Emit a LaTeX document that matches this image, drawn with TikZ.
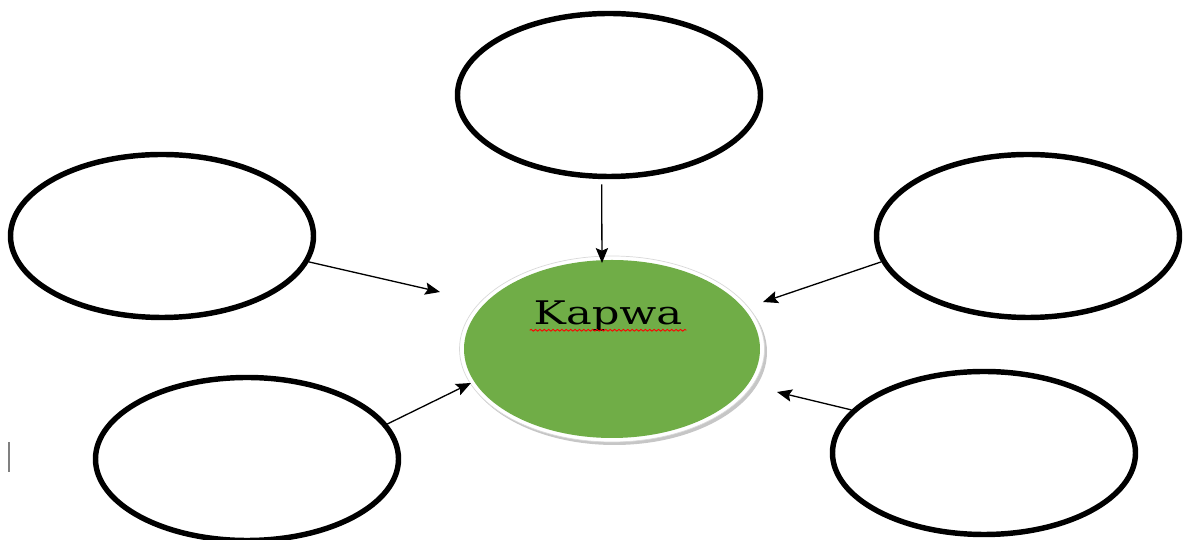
\documentclass[tikz,border=0pt]{standalone}
\usepackage{fontspec}
\newfontfamily\kapwafont{DejaVu Serif}
\usetikzlibrary{shapes.geometric,arrows.meta,decorations.pathmorphing}
\definecolor{kapwagreen}{HTML}{70AD47}
\begin{document}
\begin{tikzpicture}[>={Stealth[length=8.5pt,width=7pt,inset=1.5pt]},
		bubble/.style={ellipse,draw,line width=3.1pt,minimum width=6.06cm,minimum height=3.26cm},
		link/.style={->,line width=0.75pt},
		core/.style={ellipse,minimum width=6.1cm,minimum height=3.72cm}]
		\useasboundingbox (0,0) rectangle (23.66,10.8);
		\node[bubble] (top) at (12.18,8.90) {};
		\node[bubble] (lu) at (3.24,6.08) {};
		\node[bubble] (ll) at (4.94,1.62) {};
		\node[bubble] (ru) at (20.56,6.08) {};
		\node[bubble] (rl) at (19.68,1.74) {};
		\node[core,fill=gray!45] (shadow) at (12.29,3.76) {};
		\node[core,fill=white,draw=gray!30,line width=0.4pt] (rim) at (12.24,3.82) {};
		\node[ellipse,fill=kapwagreen,minimum width=5.92cm,minimum height=3.56cm] (kapwa) at (12.24,3.82) {};
		\node[anchor=base,inner sep=0pt,font=\kapwafont\fontsize{18.5}{20}\selectfont,xscale=1.33,transform shape] (kapwalabel) at ([xshift=-0.08cm,yshift=0.48cm]kapwa.center) {Kapwa};
		\draw[red,line width=0.5pt,decorate,decoration={snake,amplitude=0.5pt,segment length=2.5pt}] ([xshift=-2pt,yshift=-3pt]kapwalabel.base west)--([xshift=2pt,yshift=-3pt]kapwalabel.base east);
		\coordinate (tA) at (12.04,5.54);
		\coordinate (tB) at (8.80,4.96);
		\coordinate (tC) at (9.42,3.14);
		\coordinate (tD) at (15.26,4.76);
		\coordinate (tE) at (15.54,2.96);
		\draw[link,shorten <=3pt] (top.-95)--(tA);
		\draw[link] (lu.-10)--(tB);
		\draw[link] (ll.14)--(tC);
		\draw[link] (ru.190)--(tD);
		\draw[link] (rl.162)--(tE);
		\draw[gray,line width=1.2pt] (0.18,1.96)--(0.18,1.36);
	\end{tikzpicture}
\end{document}
